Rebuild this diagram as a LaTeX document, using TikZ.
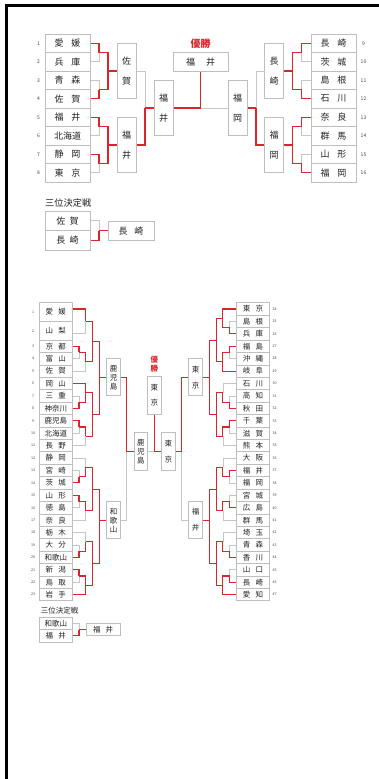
\documentclass[tikz,border=0pt]{standalone}
\usepackage{fontspec}
\usetikzlibrary{calc}
\setmainfont{Noto Sans CJK JP}
\definecolor{redc}{HTML}{D9252B}
\definecolor{grayc}{HTML}{C6C6C6}
\definecolor{boxc}{HTML}{BEBEBE}
\definecolor{txt}{HTML}{222222}
\definecolor{numc}{HTML}{444444}
\newcommand\UW[2]{#1\hspace{7.7pt}#2}
\newcommand\LWn[2]{#1\hspace{5.2pt}#2}
\begin{document}
\begin{tikzpicture}[x=1pt,y=-1pt,
  tbox/.style={draw=boxc, line width=0.8pt, fill=white, inner sep=0pt, text=txt},
  ut/.style={tbox, line width=1pt, minimum width=45pt, minimum height=18.5pt, font=\fontsize{9}{9}\selectfont},
  uv/.style={tbox, line width=1pt, minimum width=19pt, minimum height=55.5pt, align=center, font=\fontsize{9}{20}\selectfont},
  lt/.style={tbox, minimum width=33pt, minimum height=12.42pt, font=\fontsize{7.5}{7.5}\selectfont},
  ltt/.style={lt, minimum height=18.63pt},
  lv/.style={tbox, minimum width=14pt, minimum height=37pt, align=center, font=\fontsize{7.5}{9}\selectfont},
  lvw/.style={lv, font=\fontsize{7.5}{16}\selectfont},
  num/.style={font=\fontsize{5}{5}\selectfont, text=numc, inner sep=0pt},
  lnum/.style={font=\fontsize{3.6}{3.6}\selectfont, text=numc, inner sep=0pt},
  win/.style={draw=redc, line width=1.4pt},
  lose/.style={draw=grayc, line width=0.9pt},
  lwin/.style={draw=redc, line width=1.1pt},
  llose/.style={draw=grayc, line width=0.7pt}]
\useasboundingbox (0,0) rectangle (379,779);
\fill[white] (0,0) rectangle (379,779);
\draw[line width=3pt] (4.5,5) -- (379,5);
\draw[line width=3pt] (6,3.5) -- (6,779);

% ---------- upper bracket ----------
\node[ut] (U1) at (67.5,43.25) {\UW{愛}{媛}};
\node[ut] (U2) at (67.5,61.75) {\UW{兵}{庫}};
\node[ut] (U3) at (67.5,80.25) {\UW{青}{森}};
\node[ut] (U4) at (67.5,98.75) {\UW{佐}{賀}};
\node[ut] (U5) at (67.5,117.25) {\UW{福}{井}};
\node[ut] (U6) at (67.5,135.75) {北海道};
\node[ut] (U7) at (67.5,154.25) {\UW{静}{岡}};
\node[ut] (U8) at (67.5,172.75) {\UW{東}{京}};
\node[ut] (V9) at (333.5,43.25) {\UW{長}{崎}};
\node[ut] (V10) at (333.5,61.75) {\UW{茨}{城}};
\node[ut] (V11) at (333.5,80.25) {\UW{島}{根}};
\node[ut] (V12) at (333.5,98.75) {\UW{石}{川}};
\node[ut] (V13) at (333.5,117.25) {\UW{奈}{良}};
\node[ut] (V14) at (333.5,135.75) {\UW{群}{馬}};
\node[ut] (V15) at (333.5,154.25) {\UW{山}{形}};
\node[ut] (V16) at (333.5,172.75) {\UW{福}{岡}};
\node[num] (nU1) at (38.5,43.25) {1};
\node[num] (nU2) at (38.5,61.75) {2};
\node[num] (nU3) at (38.5,80.25) {3};
\node[num] (nU4) at (38.5,98.75) {4};
\node[num] (nU5) at (38.5,117.25) {5};
\node[num] (nU6) at (38.5,135.75) {6};
\node[num] (nU7) at (38.5,154.25) {7};
\node[num] (nU8) at (38.5,172.75) {8};
\node[num] (nV9) at (363.5,43.25) {9};
\node[num] (nV10) at (363.5,61.75) {10};
\node[num] (nV11) at (363.5,80.25) {11};
\node[num] (nV12) at (363.5,98.75) {12};
\node[num] (nV13) at (363.5,117.25) {13};
\node[num] (nV14) at (363.5,135.75) {14};
\node[num] (nV15) at (363.5,154.25) {15};
\node[num] (nV16) at (363.5,172.75) {16};

\node[uv] (US1) at (126.5,71) {佐\\賀};
\node[uv] (US2) at (126.5,145) {福\\井};
\node[uv] (VS1) at (274,71) {長\\崎};
\node[uv] (VS2) at (274,145) {福\\岡};
\node[uv] (UT1) at (163.5,108) {福\\井};
\node[uv] (UT2) at (237.5,108) {福\\岡};
\node[ut, minimum width=55pt] (UC) at (200.5,62) {福\hspace{11pt}井};
\node[text=redc, inner sep=0pt, font=\bfseries\fontsize{10}{10}\selectfont] (UV) at (200.5,43.5) {優勝};

\coordinate (m12) at (99,52.5);
\coordinate (m34) at (99,89.5);
\coordinate (m56) at (99,126.5);
\coordinate (m78) at (99,163.5);
\coordinate (q1) at (108,71);
\coordinate (q2) at (108,145);
\coordinate (s) at (145,108);
\coordinate (f) at (200.5,108);
\coordinate (n1) at (301.7,52.5);
\coordinate (n2) at (301.7,89.5);
\coordinate (n3) at (301.7,126.5);
\coordinate (n4) at (301.7,163.5);
\coordinate (p1) at (292.7,71);
\coordinate (p2) at (292.7,145);
\coordinate (t) at (256,108);

\draw[lose] (U2.east) -| (m12);
\draw[lose] (U3.east) -| (m34);
\draw[lose] (U6.east) -| (m56);
\draw[lose] (U8.east) -| (m78);
\draw[lose] (US1.east) -| (s);
\draw[lose] (UT2.west) -- (f);
\draw[lose] (V10.west) -| (n1);
\draw[lose] (V11.west) -| (n2);
\draw[lose] (V14.west) -| (n3);
\draw[lose] (V15.west) -| (n4);
\draw[lose] (VS1.west) -| (t);

\draw[win] (U1.east) -| (m12);
\draw[win] (m12) -| (q1);
\draw[win] (U4.east) -| (m34);
\draw[win] (m34) -| (q1);
\draw[win] (q1) -- (US1.west);
\draw[win] (U5.east) -| (m56);
\draw[win] (m56) -| (q2);
\draw[win] (U7.east) -| (m78);
\draw[win] (m78) -| (q2);
\draw[win] (q2) -- (US2.west);
\draw[win] (US2.east) -| (s);
\draw[win] (s) -- (UT1.west);
\draw[win] (UT1.east) -- (f);
\draw[win] (f) -- (UC.south);
\draw[win] (V9.west) -| (n1);
\draw[win] (n1) -| (p1);
\draw[win] (V12.west) -| (n2);
\draw[win] (n2) -| (p1);
\draw[win] (p1) -- (VS1.east);
\draw[win] (V13.west) -| (n3);
\draw[win] (n3) -| (p2);
\draw[win] (V16.west) -| (n4);
\draw[win] (n4) -| (p2);
\draw[win] (p2) -- (VS2.east);
\draw[win] (VS2.west) -| (t);
\draw[win] (t) -- (UT2.east);

% upper third place
\node[anchor=west, inner sep=0pt, text=txt, font=\fontsize{9.2}{9.2}\selectfont] (UL3) at (45,203) {三位決定戦};
\node[ut, minimum height=19.6pt] (UP1) at (67.5,220.8) {佐\hspace{4.3pt}賀};
\node[ut, minimum height=19.6pt] (UP2) at (67.5,240.4) {長\hspace{4.3pt}崎};
\node[ut, minimum width=46pt, minimum height=19.2pt] (UPW) at (131,230.6) {長\hspace{7pt}崎};
\coordinate (up) at (99,230.6);
\draw[lose] (UP1.east) -| (up);
\draw[win] (UP2.east) -| (up);
\draw[win] (up) -- (UPW.west);

% ---------- lower bracket ----------
\node[ltt] (LL1) at (55.8,312.115) {\LWn{愛}{媛}};
\node[ltt] (LL2) at (55.8,330.745) {\LWn{山}{梨}};
\node[lt] (LL3) at (55.8,346.27) {\LWn{京}{都}};
\node[lt] (LL4) at (55.8,358.69) {\LWn{富}{山}};
\node[lt] (LL5) at (55.8,371.11) {\LWn{佐}{賀}};
\node[lt] (LL6) at (55.8,383.53) {\LWn{岡}{山}};
\node[lt] (LL7) at (55.8,395.95) {\LWn{三}{重}};
\node[lt] (LL8) at (55.8,408.37) {神奈川};
\node[lt] (LL9) at (55.8,420.79) {鹿児島};
\node[lt] (LL10) at (55.8,433.21) {北海道};
\node[lt] (LL11) at (55.8,445.63) {\LWn{長}{野}};
\node[lt] (LL12) at (55.8,458.05) {\LWn{静}{岡}};
\node[lt] (LL13) at (55.8,470.47) {\LWn{宮}{崎}};
\node[lt] (LL14) at (55.8,482.89) {\LWn{茨}{城}};
\node[lt] (LL15) at (55.8,495.31) {\LWn{山}{形}};
\node[lt] (LL16) at (55.8,507.73) {\LWn{徳}{島}};
\node[lt] (LL17) at (55.8,520.15) {\LWn{奈}{良}};
\node[lt] (LL18) at (55.8,532.57) {\LWn{栃}{木}};
\node[lt] (LL19) at (55.8,544.99) {\LWn{大}{分}};
\node[lt] (LL20) at (55.8,557.41) {和歌山};
\node[lt] (LL21) at (55.8,569.83) {\LWn{新}{潟}};
\node[lt] (LL22) at (55.8,582.25) {\LWn{鳥}{取}};
\node[lt] (LL23) at (55.8,594.67) {\LWn{岩}{手}};

\node[lnum] (nL1) at (33,312.1) {1};
\node[lnum] (nL2) at (33,330.7) {2};
\node[lnum] (nL3) at (33,346.27) {3};
\node[lnum] (nL4) at (33,358.69) {4};
\node[lnum] (nL5) at (33,371.11) {5};
\node[lnum] (nL6) at (33,383.53) {6};
\node[lnum] (nL7) at (33,395.95) {7};
\node[lnum] (nL8) at (33,408.37) {8};
\node[lnum] (nL9) at (33,420.79) {9};
\node[lnum] (nL10) at (33,433.21) {10};
\node[lnum] (nL11) at (33,445.63) {11};
\node[lnum] (nL12) at (33,458.05) {12};
\node[lnum] (nL13) at (33,470.47) {13};
\node[lnum] (nL14) at (33,482.89) {14};
\node[lnum] (nL15) at (33,495.31) {15};
\node[lnum] (nL16) at (33,507.73) {16};
\node[lnum] (nL17) at (33,520.15) {17};
\node[lnum] (nL18) at (33,532.57) {18};
\node[lnum] (nL19) at (33,544.99) {19};
\node[lnum] (nL20) at (33,557.41) {20};
\node[lnum] (nL21) at (33,569.83) {21};
\node[lnum] (nL22) at (33,582.25) {22};
\node[lnum] (nL23) at (33,594.67) {23};

\node[lt] (RR24) at (253,309.01) {\LWn{東}{京}};
\node[lt] (RR25) at (253,321.43) {\LWn{島}{根}};
\node[lt] (RR26) at (253,333.85) {\LWn{兵}{庫}};
\node[lt] (RR27) at (253,346.27) {\LWn{福}{島}};
\node[lt] (RR28) at (253,358.69) {\LWn{沖}{縄}};
\node[lt] (RR29) at (253,371.11) {\LWn{岐}{阜}};
\node[lt] (RR30) at (253,383.53) {\LWn{石}{川}};
\node[lt] (RR31) at (253,395.95) {\LWn{高}{知}};
\node[lt] (RR32) at (253,408.37) {\LWn{秋}{田}};
\node[lt] (RR33) at (253,420.79) {\LWn{千}{葉}};
\node[lt] (RR34) at (253,433.21) {\LWn{滋}{賀}};
\node[lt] (RR35) at (253,445.63) {\LWn{熊}{本}};
\node[lt] (RR36) at (253,458.05) {\LWn{大}{阪}};
\node[lt] (RR37) at (253,470.47) {\LWn{福}{井}};
\node[lt] (RR38) at (253,482.89) {\LWn{福}{岡}};
\node[lt] (RR39) at (253,495.31) {\LWn{宮}{城}};
\node[lt] (RR40) at (253,507.73) {\LWn{広}{島}};
\node[lt] (RR41) at (253,520.15) {\LWn{群}{馬}};
\node[lt] (RR42) at (253,532.57) {\LWn{埼}{玉}};
\node[lt] (RR43) at (253,544.99) {\LWn{青}{森}};
\node[lt] (RR44) at (253,557.41) {\LWn{香}{川}};
\node[lt] (RR45) at (253,569.83) {\LWn{山}{口}};
\node[lt] (RR46) at (253,582.25) {\LWn{長}{崎}};
\node[lt] (RR47) at (253,594.67) {\LWn{愛}{知}};

\node[lnum] (nR24) at (274.5,309.01) {24};
\node[lnum] (nR25) at (274.5,321.43) {25};
\node[lnum] (nR26) at (274.5,333.85) {26};
\node[lnum] (nR27) at (274.5,346.27) {27};
\node[lnum] (nR28) at (274.5,358.69) {28};
\node[lnum] (nR29) at (274.5,371.11) {29};
\node[lnum] (nR30) at (274.5,383.53) {30};
\node[lnum] (nR31) at (274.5,395.95) {31};
\node[lnum] (nR32) at (274.5,408.37) {32};
\node[lnum] (nR33) at (274.5,420.79) {33};
\node[lnum] (nR34) at (274.5,433.21) {34};
\node[lnum] (nR35) at (274.5,445.63) {35};
\node[lnum] (nR36) at (274.5,458.05) {36};
\node[lnum] (nR37) at (274.5,470.47) {37};
\node[lnum] (nR38) at (274.5,482.89) {38};
\node[lnum] (nR39) at (274.5,495.31) {39};
\node[lnum] (nR40) at (274.5,507.73) {40};
\node[lnum] (nR41) at (274.5,520.15) {41};
\node[lnum] (nR42) at (274.5,532.57) {42};
\node[lnum] (nR43) at (274.5,544.99) {43};
\node[lnum] (nR44) at (274.5,557.41) {44};
\node[lnum] (nR45) at (274.5,569.83) {45};
\node[lnum] (nR46) at (274.5,582.25) {46};
\node[lnum] (nR47) at (274.5,594.67) {47};

\node[lv] (LT1) at (113.7,377.32) {鹿\\児\\島};
\node[lv] (LT2) at (113.7,520.15) {和\\歌\\山};
\node[lvw] (RT1) at (195.7,377.32) {東\\京};
\node[lvw] (RT2) at (195.7,520.15) {福\\井};
\node[lv, minimum width=13.7pt, minimum height=38pt] (LS) at (140.85,451.7) {鹿\\児\\島};
\node[lvw, minimum width=13.7pt, minimum height=38pt] (RS) at (168.35,451.7) {東\\京};
\node[lvw, minimum height=37.6pt, font=\fontsize{7.5}{15}\selectfont] (LC) at (154.3,395.5) {東\\京};
\node[text=redc, inner sep=0pt, align=center, font=\bfseries\fontsize{7.5}{9}\selectfont] (LV) at (154.3,364.2) {優\\勝};

% lower meeting points, left
\coordinate (A1) at (85.7,321.43);
\coordinate (A2) at (79,352.48);
\coordinate (A3) at (85.7,361.8);
\coordinate (A4) at (92.4,341.6);
\coordinate (B1) at (79,402.16);
\coordinate (B2) at (85.7,392.85);
\coordinate (B3) at (79,427.0);
\coordinate (B4) at (85.7,436.32);
\coordinate (B5) at (92.4,414.58);
\coordinate (C1) at (79,476.68);
\coordinate (C2) at (85.7,467.37);
\coordinate (C3) at (79,501.52);
\coordinate (C4) at (85.7,510.84);
\coordinate (C5) at (92.4,489.1);
\coordinate (D1) at (79,551.2);
\coordinate (D2) at (85.7,541.89);
\coordinate (D3) at (79,576.04);
\coordinate (D4) at (85.7,585.36);
\coordinate (D5) at (92.4,563.62);
\coordinate (a5) at (99.1,377.32);
\coordinate (c6) at (99.1,520.15);
% right
\coordinate (E1) at (229.6,327.64);
\coordinate (E2) at (222.9,318.33);
\coordinate (E3) at (229.6,352.48);
\coordinate (E4) at (222.9,361.8);
\coordinate (E5) at (216.2,340.06);
\coordinate (F1) at (229.6,402.16);
\coordinate (F2) at (222.9,392.85);
\coordinate (F3) at (229.6,427.0);
\coordinate (F4) at (222.9,436.32);
\coordinate (F5) at (216.2,414.58);
\coordinate (G1) at (229.6,476.68);
\coordinate (G2) at (222.9,467.37);
\coordinate (G3) at (229.6,501.52);
\coordinate (G4) at (222.9,510.84);
\coordinate (G5) at (216.2,489.1);
\coordinate (H1) at (229.6,551.2);
\coordinate (H2) at (222.9,541.89);
\coordinate (H3) at (229.6,576.04);
\coordinate (H4) at (222.9,585.36);
\coordinate (H5) at (216.2,563.62);
\coordinate (e6) at (209.5,377.32);
\coordinate (g6) at (209.5,520.15);
\coordinate (sl) at (126.7,451.7);
\coordinate (sr) at (181.7,451.7);
\coordinate (fm) at (154.3,451.7);

% gray (losers)
\draw[llose] ($(LL2.east)+(0,3.1)$) -| (A1);
\draw[llose] (LL4.east) -| (A2);
\draw[llose] (LL5.east) -| (A3);
\draw[llose] (LL7.east) -| (B1);
\draw[llose] (LL10.east) -| (B3);
\draw[llose] (LL11.east) -| (B4);
\draw[llose] (LL12.east) -| (C2);
\draw[llose] (LL13.east) -| (C1);
\draw[llose] (LL16.east) -| (C3);
\draw[llose] (LL17.east) -| (C4);
\draw[llose] (LL18.east) -| (D2);
\draw[llose] (LL19.east) -| (D1);
\draw[llose] (LL22.east) -| (D3);
\draw[llose] (RR25.west) -| (E1);
\draw[llose] (RR28.west) -| (E3);
\draw[llose] (RR30.west) -| (F2);
\draw[llose] (RR31.west) -| (F1);
\draw[llose] (RR34.west) -| (F3);
\draw[llose] (RR35.west) -| (F4);
\draw[llose] (RR36.west) -| (G2);
\draw[llose] (RR38.west) -| (G1);
\draw[llose] (RR39.west) -| (G3);
\draw[llose] (RR41.west) -| (G4);
\draw[llose] (RR42.west) -| (H2);
\draw[llose] (RR43.west) -| (H1);
\draw[llose] (RR45.west) -| (H3);
\draw[llose] (LT2.east) -| (sl);
\draw[llose] (RT2.west) -| (sr);
\draw[llose] (LS.east) -- (fm);

% red (winners)
\draw[lwin] ($(LL1.east)+(0,-3.1)$) -| (A1);
\draw[lwin] (LL3.east) -| (A2);
\draw[lwin] (A2) -| (A3);
\draw[lwin] (A1) -| (A4);
\draw[lwin] (A3) -| (A4);
\draw[lwin] (A4) -| (a5);
\draw[lwin] (LL6.east) -| (B2);
\draw[lwin] (LL8.east) -| (B1);
\draw[lwin] (B1) -| (B2);
\draw[lwin] (LL9.east) -| (B3);
\draw[lwin] (B3) -| (B4);
\draw[lwin] (B2) -| (B5);
\draw[lwin] (B4) -| (B5);
\draw[lwin] (B5) -| (a5);
\draw[lwin] (a5) -- (LT1.west);
\draw[lwin] (LL14.east) -| (C1);
\draw[lwin] (C1) -| (C2);
\draw[lwin] (LL15.east) -| (C3);
\draw[lwin] (C3) -| (C4);
\draw[lwin] (C2) -| (C5);
\draw[lwin] (C4) -| (C5);
\draw[lwin] (C5) -| (c6);
\draw[lwin] (LL20.east) -| (D1);
\draw[lwin] (D1) -| (D2);
\draw[lwin] (LL21.east) -| (D3);
\draw[lwin] (D3) -| (D4);
\draw[lwin] (LL23.east) -| (D4);
\draw[lwin] (D2) -| (D5);
\draw[lwin] (D4) -| (D5);
\draw[lwin] (D5) -| (c6);
\draw[lwin] (c6) -- (LT2.west);

\draw[lwin] (RR24.west) -| (E2);
\draw[lwin] (RR26.west) -| (E1);
\draw[lwin] (E1) -| (E2);
\draw[lwin] (RR27.west) -| (E3);
\draw[lwin] (E3) -| (E4);
\draw[lwin] (RR29.west) -| (E4);
\draw[lwin] (E2) -| (E5);
\draw[lwin] (E4) -| (E5);
\draw[lwin] (E5) -| (e6);
\draw[lwin] (RR32.west) -| (F1);
\draw[lwin] (F1) -| (F2);
\draw[lwin] (RR33.west) -| (F3);
\draw[lwin] (F3) -| (F4);
\draw[lwin] (F2) -| (F5);
\draw[lwin] (F4) -| (F5);
\draw[lwin] (F5) -| (e6);
\draw[lwin] (e6) -- (RT1.east);
\draw[lwin] (RR37.west) -| (G1);
\draw[lwin] (G1) -| (G2);
\draw[lwin] (RR40.west) -| (G3);
\draw[lwin] (G3) -| (G4);
\draw[lwin] (G2) -| (G5);
\draw[lwin] (G4) -| (G5);
\draw[lwin] (G5) -| (g6);
\draw[lwin] (RR44.west) -| (H1);
\draw[lwin] (H1) -| (H2);
\draw[lwin] (RR46.west) -| (H3);
\draw[lwin] (H3) -| (H4);
\draw[lwin] (RR47.west) -| (H4);
\draw[lwin] (H2) -| (H5);
\draw[lwin] (H4) -| (H5);
\draw[lwin] (H5) -| (g6);
\draw[lwin] (g6) -- (RT2.east);

\draw[lwin] (LT1.east) -| (sl);
\draw[lwin] (sl) -- (LS.west);
\draw[lwin] (RT1.west) -| (sr);
\draw[lwin] (sr) -- (RS.east);
\draw[lwin] (RS.west) -- (fm);
\draw[lwin] (fm) -- (LC.south);

% lower third place
\node[anchor=west, inner sep=0pt, text=txt, font=\fontsize{7.5}{7.5}\selectfont] (LL3rd) at (40.7,611) {三位決定戦};
\node[lt] (LP1) at (55.8,623.3) {和歌山};
\node[lt] (LP2) at (55.8,635.7) {\LWn{福}{井}};
\node[lt, minimum width=34.3pt] (LPW) at (103.2,629.5) {福\hspace{5pt}井};
\coordinate (lp) at (79,629.5);
\draw[llose] (LP1.east) -| (lp);
\draw[lwin] (LP2.east) -| (lp);
\draw[lwin] (lp) -- (LPW.west);
\end{tikzpicture}
\end{document}
